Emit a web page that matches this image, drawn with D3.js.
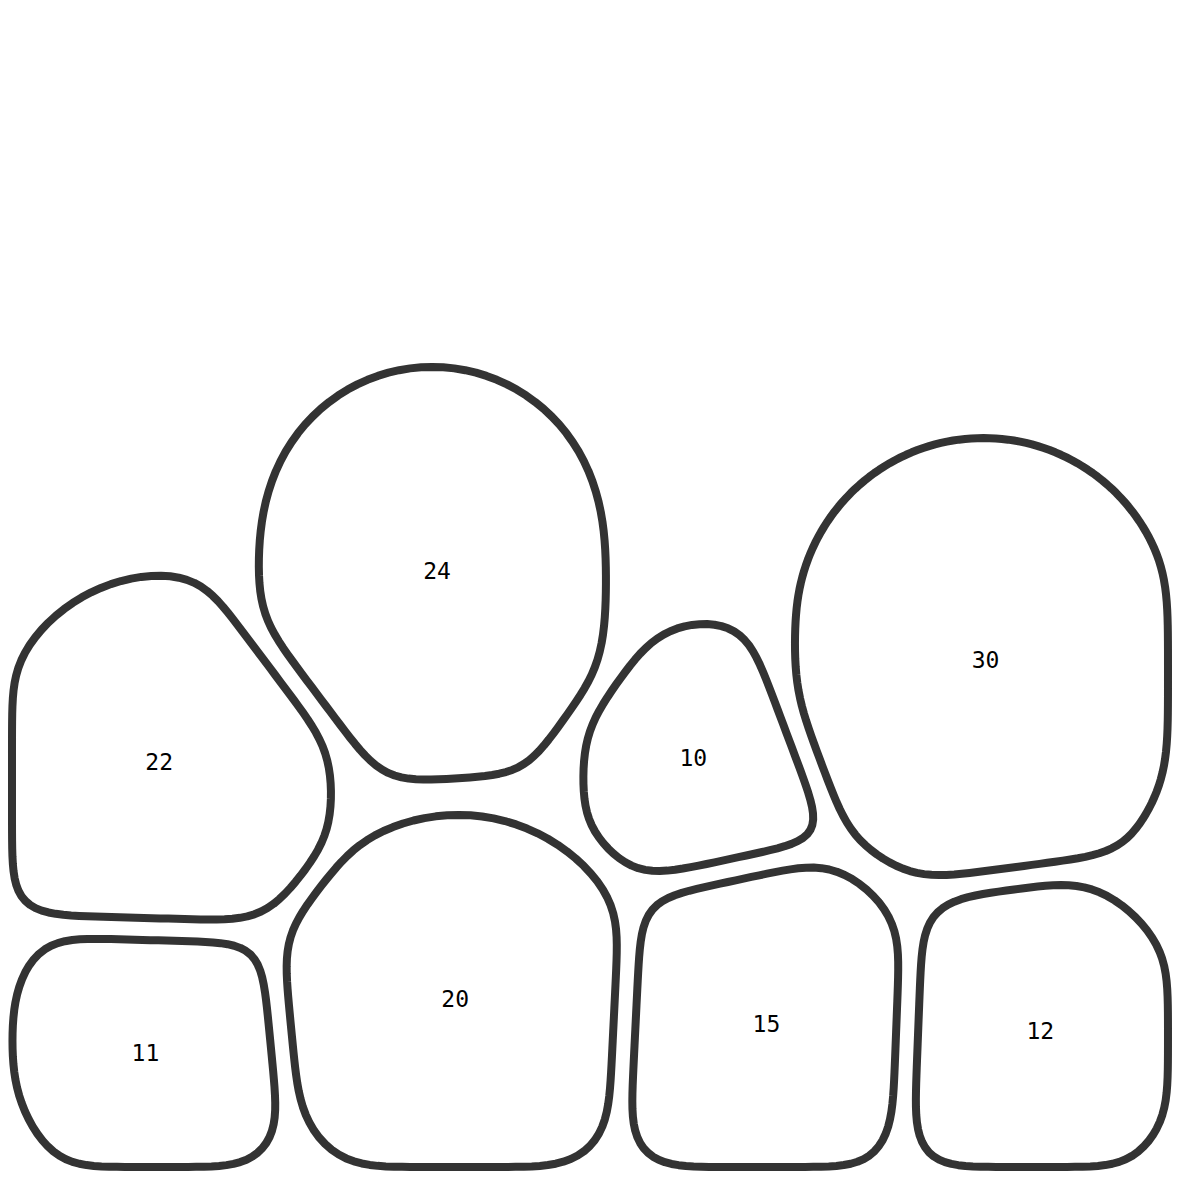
<!DOCTYPE html>
<html><head><meta charset="utf-8">
<script src="https://cdn.jsdelivr.net/npm/d3@7"></script>
<style>html,body{margin:0;padding:0;background:#fff}</style>
</head><body>
<svg id="chart" width="1180" height="1180"></svg>
<script>
// ---- data ----
const values  = [22, 24, 10, 30, 11, 20, 15, 12];
const columns = ["A", "B", "C", "D", "A", "B", "C", "D"];
const layers  = ["upper", "upper", "upper", "upper", "lower", "lower", "lower", "lower"];
const columnOrder = ["A", "B", "C", "D"];

// ---- layout ----
const left = 12, right = 1168, bottom = 1167;
const gap = 11, weightBoost = 1.3;
const x = d3.scaleBand().domain(columnOrder).range([left, right]);
const stagger = d3.scaleLinear().domain([0, columnOrder.length - 1]).range([0, 40]);
const r = d3.scalePow().exponent(0.35).domain([0, 30]).range([0, 200]);
const layerSize = { upper: 1, lower: 1.12 };
const layerStretch = { upper: 0.5, lower: 0.2 };
const stack = d3.scalePow().exponent(10).domain([25, 44]).range([250, 432]);

const nodes = values.map((v, i) => ({ value: v, col: columns[i], layer: layers[i], R: r(v) * layerSize[layers[i]] }));
nodes.forEach(n => n.w = weightBoost * n.R * n.R);
for (const [c, arr] of d3.group(nodes, d => d.col)) {
  const lo = arr.find(d => d.layer === "lower"), up = arr.find(d => d.layer === "upper");
  const cx = x(c) + x.bandwidth() / 2, s = stagger(columnOrder.indexOf(c));
  lo.x = cx + s; up.x = cx - s;
  lo.y = bottom - 0.8 * lo.R;
  up.y = lo.y - stack(lo.value + up.value);
}
nodes.forEach(n => {
  const m = 0.9 * (n.R - gap);
  n.x = Math.max(left + m, Math.min(right - m, n.x));
});

function clip(poly, a, b, c) { // keep a*x+b*y <= c
  const out = [];
  for (let i = 0; i < poly.length; i++) {
    const P = poly[i], Q = poly[(i + 1) % poly.length];
    const fp = a * P[0] + b * P[1] - c, fq = a * Q[0] + b * Q[1] - c;
    if (fp <= 0) out.push(P);
    if ((fp < 0 && fq > 0) || (fp > 0 && fq < 0)) {
      const t = fp / (fp - fq);
      out.push([P[0] + t * (Q[0] - P[0]), P[1] + t * (Q[1] - P[1])]);
    }
  }
  return out;
}
function resample(poly, step) {
  const out = [];
  for (let i = 0; i < poly.length; i++) {
    const P = poly[i], Q = poly[(i + 1) % poly.length];
    const L = Math.hypot(Q[0] - P[0], Q[1] - P[1]);
    if (L < 1e-6) continue;
    const n = Math.max(1, Math.round(L / step));
    for (let k = 0; k < n; k++) out.push([P[0] + (Q[0] - P[0]) * k / n, P[1] + (Q[1] - P[1]) * k / n]);
  }
  return out;
}
function smooth(pts, passes) {
  let p = pts;
  for (let s = 0; s < passes; s++) {
    const n = p.length;
    p = p.map((q, i) => {
      const a = p[(i - 1 + n) % n], b = p[(i + 1) % n];
      return [(a[0] + q[0] + b[0]) / 3, (a[1] + q[1] + b[1]) / 3];
    });
  }
  return p;
}

nodes.forEach(n => {
  const Rc = n.R - gap, L = layerStretch[n.layer] * Rc;
  const pts = [];
  d3.range(96).forEach(k => {
    const t = k / 96 * 2 * Math.PI;
    pts.push([n.x + Rc * Math.cos(t), n.y - L / 2 + Rc * Math.sin(t)]);
    pts.push([n.x + Rc * Math.cos(t), n.y + L / 2 + Rc * Math.sin(t)]);
  });
  let poly = d3.polygonHull(pts);
  poly = clip(poly, -1, 0, -left);
  poly = clip(poly, 1, 0, right);
  poly = clip(poly, 0, 1, bottom);
  nodes.forEach(m => {
    if (m === n) return;
    const dx = m.x - n.x, dy = m.y - n.y, d = Math.hypot(dx, dy);
    const c = (m.x * m.x + m.y * m.y - n.x * n.x - n.y * n.y - m.w + n.w) / (2 * d) - gap;
    poly = clip(poly, dx / d, dy / d, c);
  });
  n.shape = smooth(resample(poly, 8), 20);
  n.centroid = d3.polygonCentroid(n.shape);
});

const svg = d3.select("#chart");
const line = d3.line().curve(d3.curveLinearClosed);
const g = svg.selectAll("g.cell").data(nodes).join("g").attr("class", "cell");
g.append("path").attr("d", d => line(d.shape))
  .attr("fill", "#fff").attr("stroke", "#333").attr("stroke-width", 8).attr("stroke-linejoin", "round");
g.append("text").attr("x", d => d.centroid[0]).attr("y", d => d.centroid[1])
  .attr("text-anchor", "middle").attr("dominant-baseline", "central")
  .attr("font-family", "DejaVu Sans Mono").attr("font-size", 23).attr("fill", "#000")
  .text(d => d.value);
</script>
</body></html>
